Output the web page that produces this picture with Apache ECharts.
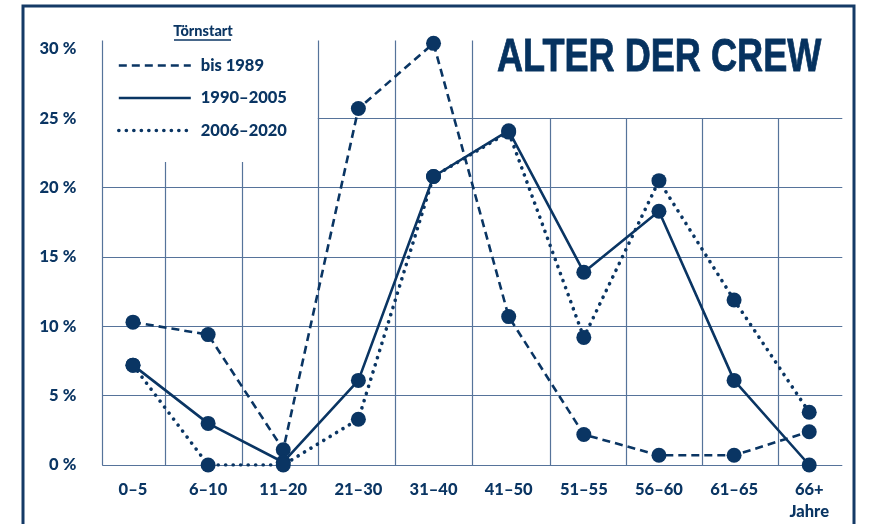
<!DOCTYPE html>
<html>
<head>
<meta charset="utf-8">
<title>Alter der Crew</title>
<script src="https://cdn.jsdelivr.net/npm/echarts@6/dist/echarts.min.js"></script>
<style>
  html, body { margin: 0; padding: 0; background: #ffffff; }
  #chart { width: 872px; height: 524px; }
</style>
</head>
<body>
<div id="chart"></div>
<script>
// Age groups of the crew (x axis)
const ageGroups = ['0–5', '6–10', '11–20', '21–30', '31–40', '41–50', '51–55', '56–60', '61–65', '66+'];

// Share of crew members per age group, in percent, by start of the cruise
const seriesNames = ['bis 1989', '1990–2005', '2006–2020'];
const until1989   = [10.3, 9.4, 1.1, 25.7, 30.4, 10.7, 2.2, 0.7, 0.7, 2.4];
const from1990    = [7.2, 3.0, 0.2, 6.1, 20.8, 24.1, 13.9, 18.3, 6.1, 0.0];
const from2006    = [7.2, 0.0, 0.0, 3.3, 20.8, 24.0, 9.2, 20.5, 11.9, 3.8];

// Y axis ticks (percent)
const yTicks = [0, 5, 10, 15, 20, 25, 30];

const NAVY = '#0a3563';
const GRIDC = '#56739a';
const FONT = 'Lato, "Liberation Sans", sans-serif';

// Line styles of the three periods
const styleDashed = { type: [8, 5], width: 2.6 };
const styleSolid  = { type: 'solid', width: 2.6 };
const styleDotted = { type: [0.1, 7.4], cap: 'round', width: 3.6 };

// Rules of the chart grid, in units of the helper axes:
// x runs over category slots (-0.5 … 9.5), y in percent.
const yTop = 30.6;
const xLeft = -0.41, xRight = 9.44;
const verticalRules = [
  [xLeft, 0, yTop],
  [0.43, 0, 21.85],
  [1.45, 0, 21.85],
  [2.46, 0, yTop],
  [3.49, 0, yTop],
  [4.51, 0, yTop],
  [5.55, 0, 25],
  [6.56, 0, 25],
  [7.58, 0, 25],
  [8.59, 0, 25]
];
const horizontalRules = [
  [0, xLeft, xRight],
  [5, xLeft, xRight],
  [10, xLeft, xRight],
  [15, xLeft, xRight],
  [20, xLeft, xRight],
  [25, 2.46, xRight]
];

const ruleSegments = [];
verticalRules.forEach(([x, y0, y1]) => {
  ruleSegments.push([{ coord: [x, y0] }, { coord: [x, y1] }]);
});
horizontalRules.forEach(([y, x0, x1]) => {
  ruleSegments.push([{ coord: [x0, y] }, { coord: [x1, y] }]);
});

const chart = echarts.init(document.getElementById('chart'), null, { renderer: 'canvas' });

function lineSeries(name, values, lineStyle) {
  return {
    name: name,
    type: 'line',
    data: values,
    xAxisIndex: 0,
    yAxisIndex: 0,
    symbol: 'circle',
    symbolSize: 15,
    z: 5,
    itemStyle: { color: NAVY },
    lineStyle: Object.assign({ color: NAVY }, lineStyle),
    emphasis: { disabled: true },
    animation: false
  };
}

const option = {
  backgroundColor: '#ffffff',
  animation: false,
  legend: {
    data: [
      { name: seriesNames[0], lineStyle: Object.assign({ color: NAVY }, styleDashed) },
      { name: seriesNames[1], lineStyle: Object.assign({ color: NAVY }, styleSolid) },
      { name: seriesNames[2], lineStyle: Object.assign({ color: NAVY }, styleDotted) }
    ],
    orient: 'vertical',
    left: 112,
    top: 52,
    itemWidth: 72,
    itemHeight: 14,
    itemGap: 15.5,
    selectedMode: false,
    itemStyle: { opacity: 0 },
    textStyle: {
      fontFamily: FONT,
      fontWeight: 900,
      fontSize: 16.5,
      color: NAVY,
      padding: [0, 0, 0, 5]
    }
  },
  grid: {
    left: 95.4,
    width: 751.4,
    top: 465 - yTop * 13.87,
    bottom: 59,
    containLabel: false
  },
  xAxis: [
    {
      type: 'category',
      data: ageGroups,
      boundaryGap: true,
      axisLine: { show: false },
      axisTick: { show: false },
      splitLine: { show: false },
      axisLabel: {
        margin: 14,
        fontFamily: FONT,
        fontWeight: 900,
        fontSize: 16.5,
        lineHeight: 22,
        color: NAVY,
        formatter: (v) => v === '66+' ? '66+\nJahre' : v
      }
    },
    {
      type: 'value',
      min: -0.5,
      max: 9.5,
      show: false
    }
  ],
  yAxis: {
    type: 'value',
    min: 0,
    max: yTop,
    interval: 5,
    axisLine: { show: false },
    axisTick: { show: false },
    splitLine: { show: false },
    axisLabel: {
      margin: 19,
      fontFamily: FONT,
      fontWeight: 900,
      fontSize: 16.5,
      color: NAVY,
      formatter: (v) => yTicks.includes(v) ? v + '\u202F%' : ''
    }
  },
  graphic: [
    {
      type: 'rect',
      shape: { x: 23, y: 6, width: 831, height: 560 },
      style: { fill: 'none', stroke: '#153a66', lineWidth: 3 },
      silent: true,
      z: 0
    },
    {
      type: 'text',
      x: 497,
      y: 58,
      scaleX: 0.785,
      style: {
        text: 'ALTER DER CREW',
        fontFamily: '"Liberation Sans", Arial, sans-serif',
        fontWeight: 'bold',
        fontSize: 46,
        fill: '#06325f',
        stroke: '#06325f',
        lineWidth: 0.8,
        align: 'left',
        verticalAlign: 'middle'
      },
      z: 10
    },
    {
      type: 'text',
      x: 203,
      y: 31,
      style: {
        text: 'Törnstart',
        fontFamily: FONT,
        fontWeight: 900,
        fontSize: 14.5,
        fill: NAVY,
        align: 'center',
        verticalAlign: 'middle'
      },
      z: 10
    },
    {
      type: 'line',
      shape: { x1: 174, y1: 40, x2: 231, y2: 40 },
      style: { stroke: NAVY, lineWidth: 1.3 },
      z: 10
    }
  ],
  series: [
    {
      name: 'rules',
      type: 'line',
      data: [],
      xAxisIndex: 1,
      yAxisIndex: 0,
      clip: false,
      silent: true,
      z: 1,
      markLine: {
        silent: true,
        symbol: ['none', 'none'],
        label: { show: false },
        lineStyle: { color: GRIDC, width: 1.2, type: 'solid' },
        emphasis: { disabled: true },
        animation: false,
        data: ruleSegments
      }
    },
    lineSeries(seriesNames[0], until1989, styleDashed),
    lineSeries(seriesNames[1], from1990, styleSolid),
    lineSeries(seriesNames[2], from2006, styleDotted)
  ]
};

chart.setOption(option);
</script>
</body>
</html>
